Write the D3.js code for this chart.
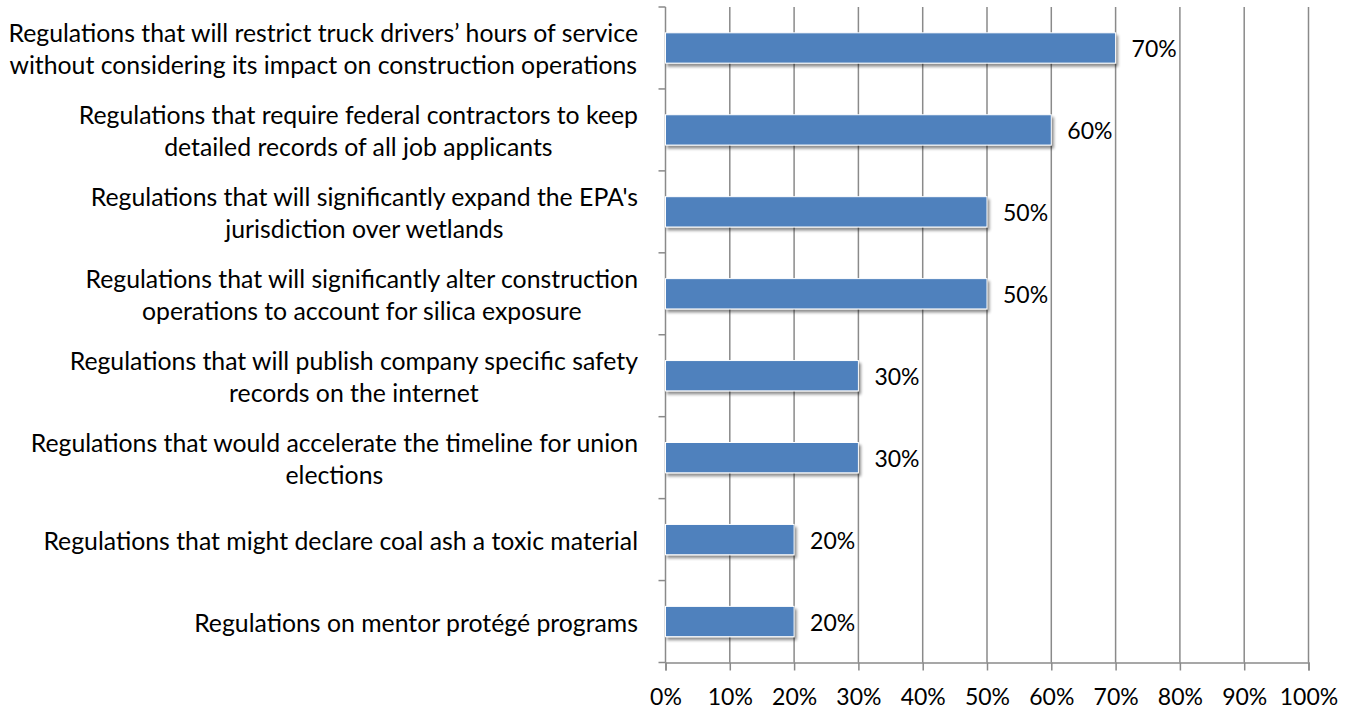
<!DOCTYPE html>
<html>
<head>
<meta charset="utf-8">
<script src="https://cdn.jsdelivr.net/npm/d3@7"></script>
<style>
  html, body { margin: 0; padding: 0; background: #fff; }
  svg { display: block; }
  text { font-family: Lato, "Open Sans", sans-serif; fill: #000; }
</style>
</head>
<body>
<svg id="chart" width="1352" height="711"></svg>
<script>
// Category labels (top to bottom), each split into its display lines
const categories = [
  ["Regulations that will restrict truck drivers\u2019 hours of service", "without considering its impact on construction operations"],
  ["Regulations that require federal contractors to keep", "detailed records of all job applicants"],
  ["Regulations that will significantly expand the EPA's", "jurisdiction over wetlands"],
  ["Regulations that will significantly alter construction", "operations to account for silica exposure"],
  ["Regulations that will publish company specific safety", "records on the internet"],
  ["Regulations that would accelerate the timeline for union", "elections"],
  ["Regulations that might declare coal ash a toxic material"],
  ["Regulations on mentor prot\u00e9g\u00e9 programs"]
];
const values = [0.70, 0.60, 0.50, 0.50, 0.30, 0.30, 0.20, 0.20];
const xTicks = [0, 0.1, 0.2, 0.3, 0.4, 0.5, 0.6, 0.7, 0.8, 0.9, 1.0];

const svg = d3.select("#chart");
const plotLeft = 665.5, plotRight = 1308.5, plotTop = 7, plotBottom = 662.5;
const axisColor = "#8a8a8a";
const fontSize = 23;
const catFontSize = 24.8;

const x = d3.scaleLinear().domain([0, 1]).range([plotLeft, plotRight]);
const y = d3.scaleBand().domain(d3.range(categories.length)).range([plotTop, plotBottom]).paddingInner(0.63).paddingOuter(0.315);
const yBand = d3.scaleBand().domain(d3.range(categories.length)).range([plotTop, plotBottom]);
const fmt = d3.format(".0%");

// drop shadow for bars
const defs = svg.append("defs");
const f = defs.append("filter").attr("id", "shadow").attr("x", "-5%").attr("y", "-30%").attr("width", "115%").attr("height", "180%");
f.append("feGaussianBlur").attr("in", "SourceAlpha").attr("stdDeviation", 1.6).attr("result", "b");
f.append("feOffset").attr("in", "b").attr("dx", 2).attr("dy", 3).attr("result", "o");
f.append("feComponentTransfer").attr("in", "o").attr("result", "s")
  .append("feFuncA").attr("type", "linear").attr("slope", 0.45);
const m = f.append("feMerge");
m.append("feMergeNode").attr("in", "s");
m.append("feMergeNode").attr("in", "SourceGraphic");

// vertical gridlines
svg.append("g").selectAll("line").data(xTicks.slice(1)).join("line")
  .attr("x1", d => x(d)).attr("x2", d => x(d))
  .attr("y1", plotTop).attr("y2", plotBottom)
  .attr("stroke", axisColor).attr("stroke-width", 1.5);

// x axis
const xAxis = svg.append("g").attr("transform", `translate(0,${plotBottom})`)
  .call(d3.axisBottom(x).tickValues(xTicks).tickFormat(fmt).tickSize(8).tickPadding(18));
xAxis.select(".domain").attr("stroke", axisColor).attr("stroke-width", 1.5);
xAxis.selectAll(".tick line").attr("stroke", axisColor).attr("stroke-width", 1.5);
xAxis.selectAll(".tick text").attr("font-size", fontSize).attr("font-family", null).attr("fill", "#000");

// y axis with ticks at category boundaries
const yAxis = svg.append("g").attr("transform", `translate(${plotLeft},0)`);
yAxis.append("line").attr("x1", 0).attr("x2", 0).attr("y1", plotTop).attr("y2", plotBottom)
  .attr("stroke", axisColor).attr("stroke-width", 1.5);
yAxis.selectAll("line.tk").data(d3.range(categories.length + 1)).join("line").attr("class", "tk")
  .attr("x1", -7).attr("x2", 0)
  .attr("y1", i => i < categories.length ? yBand(i) : plotBottom)
  .attr("y2", i => i < categories.length ? yBand(i) : plotBottom)
  .attr("stroke", axisColor).attr("stroke-width", 1.5);

// category labels
const lineH = 32;
const lab = svg.append("g").selectAll("text").data(categories).join("text")
  .attr("text-anchor", "middle")
  .attr("font-size", catFontSize)
  .attr("dominant-baseline", "central");
lab.each(function(lines, i) {
  const cy = yBand(i) + yBand.bandwidth() / 2;
  const t = d3.select(this);
  lines.forEach((ln, j) => {
    t.append("tspan").text(ln)
      .attr("y", cy + (j - (lines.length - 1) / 2) * lineH);
  });
});
// right-align the block: each line centred on the longest line's centre
lab.each(function() {
  const spans = d3.select(this).selectAll("tspan").nodes();
  const maxW = d3.max(spans, s => s.getComputedTextLength());
  const cx = 638 - maxW / 2;
  spans.forEach(s => d3.select(s).attr("x", cx));
});

// bars
svg.append("g").selectAll("rect").data(values).join("rect")
  .attr("x", x(0)).attr("y", (d, i) => y(i))
  .attr("width", d => x(d) - x(0)).attr("height", y.bandwidth())
  .attr("fill", "#4f81bd").attr("stroke", "#ffffff").attr("stroke-width", 1)
  .attr("filter", "url(#shadow)");

// value labels
svg.append("g").selectAll("text").data(values).join("text")
  .attr("x", d => x(d) + 16).attr("y", (d, i) => y(i) + y.bandwidth() / 2)
  .attr("dominant-baseline", "central")
  .attr("font-size", fontSize)
  .text(d => fmt(d));
</script>
</body>
</html>
